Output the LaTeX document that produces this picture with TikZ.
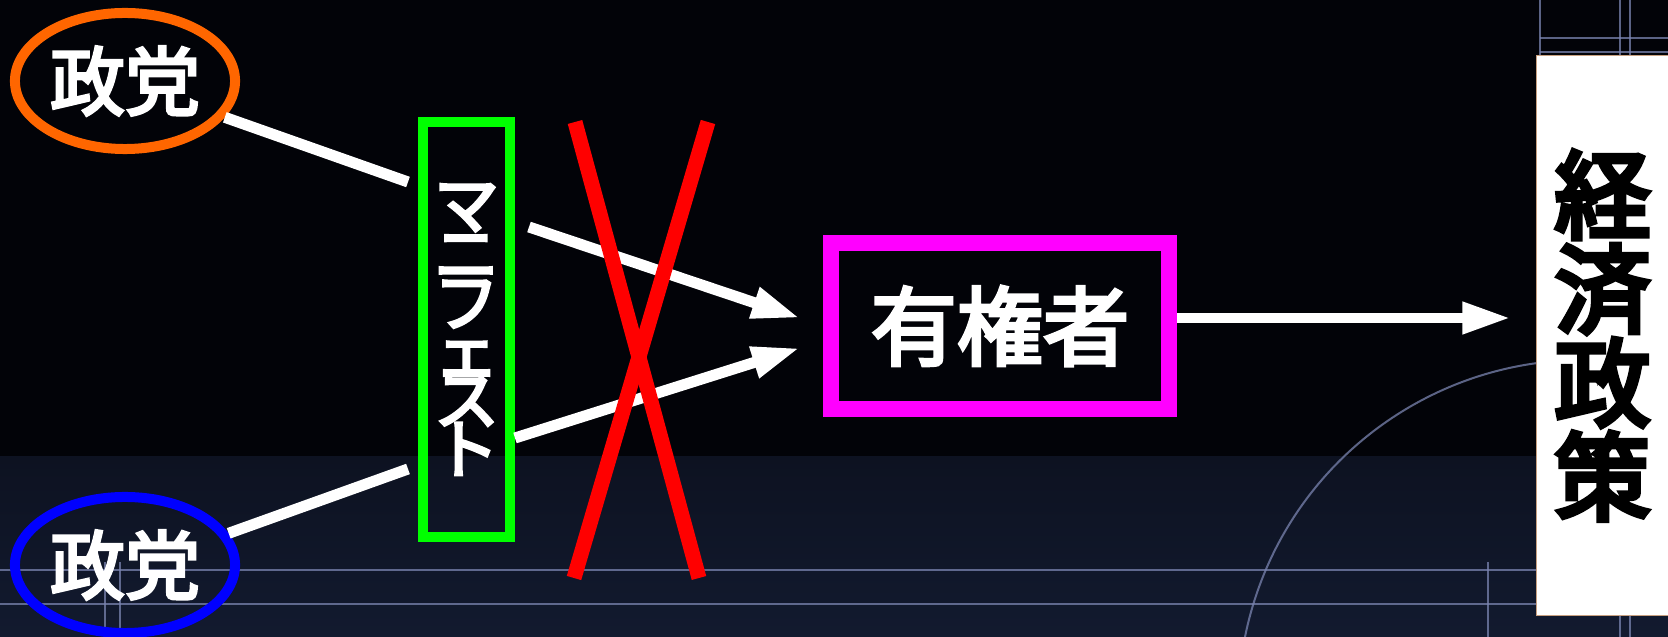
\documentclass[tikz,border=0pt]{standalone}
\usepackage{fontspec}
\newfontfamily\jpm[FakeBold=4]{Noto Sans CJK JP}
\newfontfamily\jpb[FakeBold=5.5]{Noto Sans CJK JP}
\usetikzlibrary{shapes.geometric,arrows.meta,calc}
\definecolor{partyorange}{HTML}{FF6600}
\definecolor{partyblue}{HTML}{0000FF}
\definecolor{mgreen}{HTML}{00FF00}
\definecolor{vmagenta}{HTML}{FF00FF}
\definecolor{xred}{HTML}{FF0000}
\definecolor{bgtop}{HTML}{020308}
\definecolor{bgnavytop}{HTML}{0D1221}
\definecolor{bgnavybot}{HTML}{121A2F}
\definecolor{gridcol}{HTML}{7A84B0}
\definecolor{boxedge}{HTML}{C8A080}
\lineskiplimit=-100pt
\begin{document}
\begin{tikzpicture}[x=0.01cm,y=-0.01cm,
  party/.style={ellipse, line width=0.1cm, minimum width=2.2cm, minimum height=1.36cm,
    inner sep=0pt, text=white, font=\jpm\fontsize{21.3pt}{21.3pt}\selectfont},
  manibox/.style={rectangle, draw=mgreen, line width=0.095cm, minimum width=0.87cm,
    minimum height=4.15cm, inner sep=0pt, text=white, align=center,
    font=\jpm\fontsize{18.5pt}{13.9pt}\selectfont},
  voterbox/.style={rectangle, draw=vmagenta, line width=0.16cm, minimum width=3.38cm,
    minimum height=1.66cm, inner sep=0pt, text=white,
    font=\jpm\fontsize{24.5pt}{24.5pt}\selectfont},
  policybox/.style={rectangle, fill=white, draw=boxedge, line width=0.01cm,
    minimum width=1.31cm, minimum height=5.59cm, inner sep=0pt, text=black, align=center,
    font=\jpb\fontsize{27.3pt}{26.7pt}\selectfont},
  wline/.style={white, line width=0.11cm},
  warrow/.style={wline, -{Triangle[length=0.48cm,width=0.3cm]}},
  cross/.style={xred, line width=0.15cm},
  gridln/.style={gridcol, line width=0.02cm, opacity=0.75}
]
\useasboundingbox (0,0) rectangle (1668,637);
\clip (0,0) rectangle (1668,637);
% background
\fill[bgtop] (0,0) rectangle (1668,637);
\shade[top color=bgnavytop, bottom color=bgnavybot] (0,457) rectangle (1668,637);
% faint grid lines
\draw[gridln] (0,570) -- (1668,570);
\draw[gridln] (0,604) -- (1668,604);
\draw[gridln] (105,562) -- (105,637);
\draw[gridln] (120,562) -- (120,637);
\draw[gridln] (1488,562) -- (1488,637);
\draw[gridln] (1540,0) -- (1540,56);
\draw[gridln] (1620,0) -- (1620,637);
\draw[gridln] (1630,0) -- (1630,637);
\draw[gridln] (1540,38) -- (1668,38);
\draw[gridln] (1540,52) -- (1668,52);
\draw[gridln] (1245,637) arc[start angle=168.6, end angle=80, radius=3.45cm];
% nodes
\node[party, draw=partyorange] (p1) at (125,81) {政党};
\node[party, draw=partyblue] (p2) at (125,565) {政党};
\node[manibox] (m) at (466.5,329.5) {マ\\ニ\\フ\\ェ\\ス\\ト};
\node[voterbox] (v) at (1000,326) {有権者};
\node[policybox] (pol) at (1602.5,335.5) {経\\済\\政\\策};
% connectors
\coordinate (a1) at (408,182);
\coordinate (a2) at (529,227);
\coordinate (b1) at (408,469);
\coordinate (b2) at (515,438);
\draw[wline] (p1.-20) -- (a1);
\draw[warrow] (a2) -- ([xshift=-0.23cm,yshift=0.08cm]v.west);
\draw[wline] (p2.17) -- (b1);
\draw[warrow] (b2) -- ([xshift=-0.23cm,yshift=-0.22cm]v.west);
\coordinate (r0) at ([yshift=0.08cm]v.east);
\draw[warrow, line width=0.1cm, shorten >=0.26cm] (r0) -- (r0 -| pol.west);
% red cross
\draw[cross] (575,122) -- (699,578);
\draw[cross] (708,122) -- (574,578);
\end{tikzpicture}
\end{document}
